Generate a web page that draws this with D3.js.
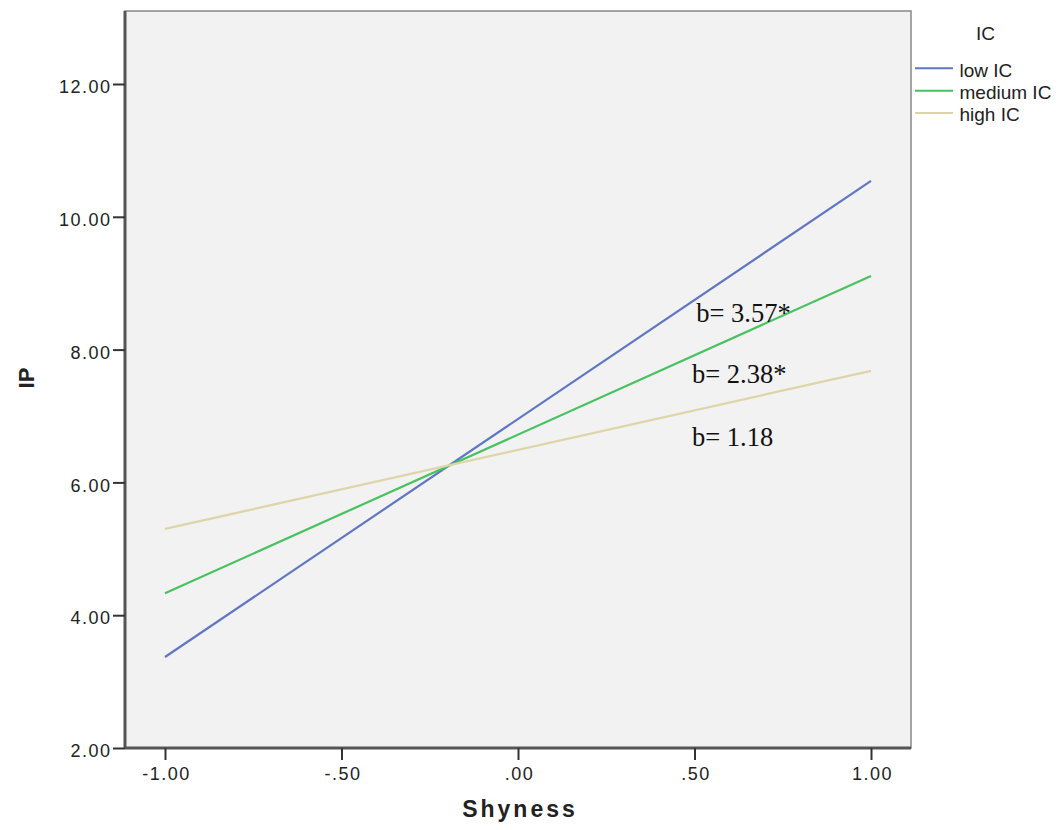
<!DOCTYPE html>
<html><head><meta charset="utf-8">
<script src="https://cdn.jsdelivr.net/npm/d3@7"></script>
<style>body{margin:0;background:#fff}svg{display:block}</style>
</head><body>
<script>
const xTicks = [-1, -0.5, 0, 0.5, 1];
const xTickLabels = ["-1.00", "-.50", ".00", ".50", "1.00"];
const yTicks = [2, 4, 6, 8, 10, 12];
const yTickLabels = ["2.00", "4.00", "6.00", "8.00", "10.00", "12.00"];
const seriesNames = ["low IC", "medium IC", "high IC"];
const xValues = [-1, 1];
const lowIC = [3.37, 10.54];
const mediumIC = [4.33, 9.11];
const highIC = [5.30, 7.68];
const colors = ["#5f76c4", "#47c25f", "#ddd5a8"];
const annotations = [
  {text: "b= 3.57*", x: 0.505, y: 8.42},
  {text: "b= 2.38*", x: 0.493, y: 7.49},
  {text: "b= 1.18", x: 0.493, y: 6.55}
];

const W = 1058, H = 830;
const svg = d3.select("body").append("svg").attr("width", W).attr("height", H);
const L = 125, R = 911, T = 11, B = 748;
const x = d3.scaleLinear().domain([-1, 1]).range([165, 871]);
const y = d3.scaleLinear().domain([2, 12]).range([B, 84]);
const sans = "Liberation Sans, Arial, sans-serif";

svg.append("rect").attr("x", L).attr("y", T).attr("width", R - L).attr("height", B - T)
  .attr("fill", "#f2f2f2").attr("stroke", "#888").attr("stroke-width", 1.5);

const series = [lowIC, mediumIC, highIC];
const line = d3.line().x((d, i) => x(xValues[i])).y(d => y(d));
series.forEach((s, i) => {
  svg.append("path").datum(s).attr("d", line).attr("fill", "none")
    .attr("stroke", colors[i]).attr("stroke-width", 2.2);
});

annotations.forEach(a => {
  svg.append("text").attr("x", x(a.x)).attr("y", y(a.y))
    .attr("font-family", "Liberation Serif, Times New Roman, serif").attr("font-size", 26.5)
    .attr("fill", "#111").text(a.text);
});

// axes
const xAxis = d3.axisBottom(x).tickValues(xTicks).tickFormat((d, i) => xTickLabels[i]).tickSize(12).tickSizeOuter(0);
const gx = svg.append("g").attr("transform", `translate(0,${B})`).call(xAxis);
gx.select(".domain").attr("d", `M${L},0H${R}`).attr("stroke", "#555").attr("stroke-width", 3);
gx.selectAll(".tick line").attr("stroke", "#333").attr("stroke-width", 2);
gx.selectAll(".tick text").attr("font-family", sans).attr("font-size", 18).attr("fill", "#222")
  .attr("letter-spacing", "1.5px").attr("dx", 1).attr("dy", "1em").attr("y", 13.5);

const yAxis = d3.axisLeft(y).tickValues(yTicks).tickFormat((d, i) => yTickLabels[i]).tickSize(12).tickSizeOuter(0);
const gy = svg.append("g").attr("transform", `translate(${L},0)`).call(yAxis);
gy.select(".domain").attr("d", `M0,${T}V${B}`).attr("stroke", "#555").attr("stroke-width", 3);
gy.selectAll(".tick line").attr("stroke", "#333").attr("stroke-width", 2);
gy.selectAll(".tick text").attr("font-family", sans).attr("font-size", 18).attr("fill", "#222")
  .attr("letter-spacing", "1.5px").attr("x", -13.5).attr("y", 3);

svg.append("text").attr("x", 520).attr("y", 817).attr("text-anchor", "middle")
  .attr("font-family", sans).attr("font-size", 23).attr("font-weight", "bold")
  .attr("letter-spacing", "3px").attr("fill", "#222").text("Shyness");
svg.append("text").attr("transform", `translate(34,378) rotate(-90)`).attr("text-anchor", "middle")
  .attr("font-family", sans).attr("font-size", 22).attr("font-weight", "bold")
  .attr("fill", "#222").text("IP");

// legend
svg.append("text").attr("x", 985.5).attr("y", 40).attr("text-anchor", "middle")
  .attr("font-family", sans).attr("font-size", 19).attr("fill", "#222").text("IC");
const lg = svg.append("g");
seriesNames.forEach((n, i) => {
  const yy = 68.3 + i * 22.4;
  lg.append("line").attr("x1", 915).attr("x2", 953).attr("y1", yy).attr("y2", yy)
    .attr("stroke", colors[i]).attr("stroke-width", 2);
  lg.append("text").attr("x", 959.5).attr("y", yy + 8.3).attr("font-family", sans)
    .attr("font-size", 19).attr("fill", "#222").text(n);
});
</script>
</body></html>
